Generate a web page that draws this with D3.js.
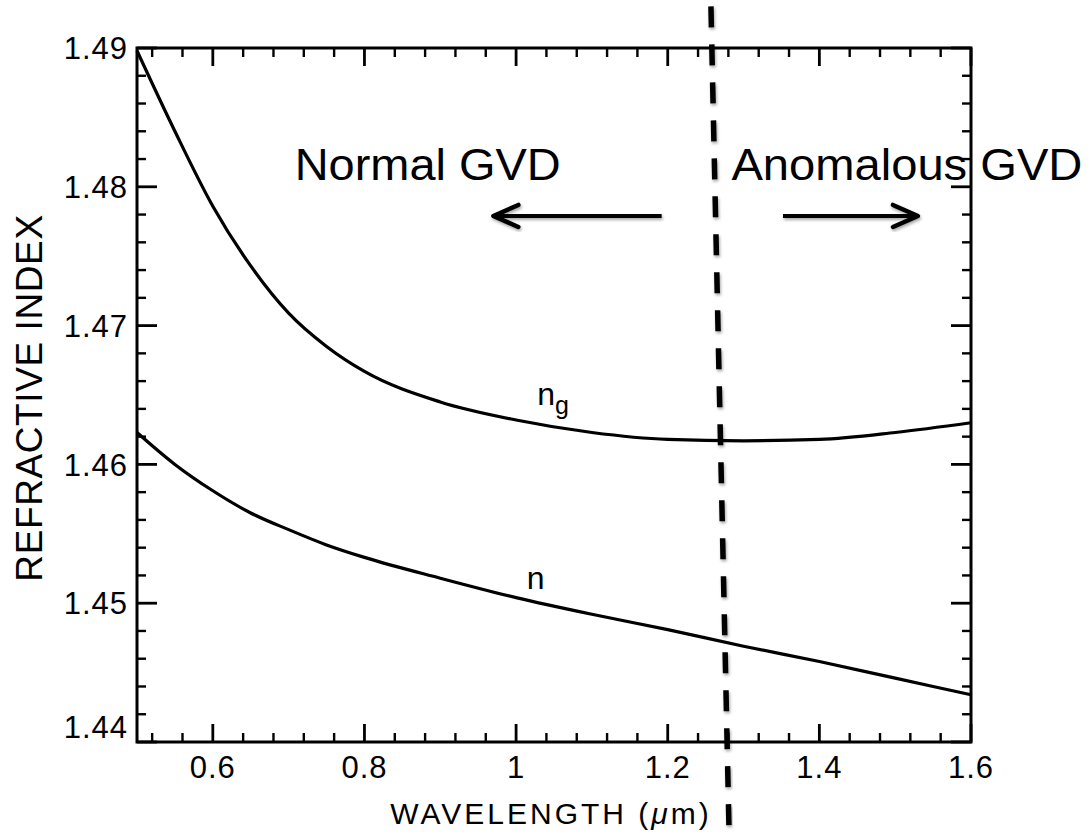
<!DOCTYPE html>
<html>
<head>
<meta charset="utf-8">
<script src="https://cdn.jsdelivr.net/npm/d3@7"></script>
<style>
  body { margin: 0; background: #fff; }
  svg { display: block; }
</style>
</head>
<body>
<script>
// Refractive index n and group index ng of fused silica vs wavelength

const wavelengths = [0.50, 0.55, 0.60, 0.65, 0.70, 0.75, 0.80, 0.90, 1.00, 1.10, 1.20, 1.30, 1.40, 1.50, 1.60];
const groupIndex = [1.4898, 1.4840, 1.4786, 1.4743, 1.4709, 1.4685, 1.4667, 1.4645, 1.4632, 1.4623, 1.4618, 1.4617, 1.4618, 1.4623, 1.4630];
const phaseIndex = [1.4623, 1.4600, 1.4581, 1.4565, 1.4553, 1.4542, 1.4533, 1.4518, 1.4504, 1.4492, 1.4481, 1.4469, 1.4458, 1.4446, 1.4434];

const xMajorTicks = [0.6, 0.8, 1.0, 1.2, 1.4, 1.6];
const xTickLabels = ['0.6', '0.8', '1', '1.2', '1.4', '1.6'];
const yMajorTicks = [1.44, 1.45, 1.46, 1.47, 1.48, 1.49];
const yTickLabels = ['1.44', '1.45', '1.46', '1.47', '1.48', '1.49'];

// zero dispersion line (the scan is a little tilted): top and bottom ends
const zdWavelength = [1.257, 1.281];
const zdIndex = [1.4930, 1.4333];

// region annotations
const regionLabels = ['Normal GVD', 'Anomalous GVD'];
const regionLabelWavelength = [0.708, 1.284];
const regionLabelIndex = 1.4805;
const arrowTail = [1.192, 1.352];
const arrowTip = [0.970, 1.530];
const arrowIndex = 1.4779;

// curve labels
const curveLabelWavelength = [1.028, 1.014];
const curveLabelIndex = [1.4643, 1.4510];

const width = 1090;
const height = 839;
const plot = { left: 137, right: 971, top: 48, bottom: 742 };

const x = d3.scaleLinear().domain([0.5, 1.6]).range([plot.left, plot.right]);
const y = d3.scaleLinear().domain([1.44, 1.49]).range([plot.bottom, plot.top]);

const notMajor = majors => v => !majors.some(m => Math.abs(m - v) < 1e-6);
const xMinorTicks = d3.range(0.52, 1.59, 0.04).filter(notMajor(xMajorTicks));
const yMinorTicks = d3.range(1.442, 1.4895, 0.002).filter(notMajor(yMajorTicks));

const font = "'Liberation Sans', Arial, sans-serif";

const svg = d3.select('body').append('svg')
  .attr('width', width)
  .attr('height', height);

const defs = svg.append('defs');
defs.append('filter')
  .attr('id', 'shadow')
  .attr('x', '-20%').attr('y', '-20%')
  .attr('width', '140%').attr('height', '140%')
  .append('feDropShadow')
  .attr('dx', 1).attr('dy', 2)
  .attr('stdDeviation', 1.5)
  .attr('flood-opacity', 0.35);

// inward tick marks on the four sides of the frame
const drawXTicks = function (values, len, strokeWidth) {
  [[plot.bottom, -len], [plot.top, len]].forEach(([y0, dy]) => {
    svg.append('g').selectAll('line')
      .data(values)
      .join('line')
      .attr('x1', d => x(d)).attr('x2', d => x(d))
      .attr('y1', y0).attr('y2', y0 + dy)
      .attr('stroke', '#000')
      .attr('stroke-width', strokeWidth);
  });
};

const drawYTicks = function (values, len, strokeWidth) {
  [[plot.left, len], [plot.right, -len]].forEach(([x0, dx]) => {
    svg.append('g').selectAll('line')
      .data(values)
      .join('line')
      .attr('y1', d => y(d)).attr('y2', d => y(d))
      .attr('x1', x0).attr('x2', x0 + dx)
      .attr('stroke', '#000')
      .attr('stroke-width', strokeWidth);
  });
};

drawXTicks(xMinorTicks, 9, 2.4);
drawXTicks(xMajorTicks, 18, 2.8);
drawYTicks(yMinorTicks, 9, 2.4);
drawYTicks(yMajorTicks, 20, 2.8);

// tick labels
svg.append('g').selectAll('text')
  .data(xMajorTicks)
  .join('text')
  .attr('x', d => x(d))
  .attr('y', plot.bottom + 36)
  .attr('text-anchor', 'middle')
  .style('font-family', font)
  .style('font-size', '31px')
  .style('letter-spacing', '1px')
  .text((d, i) => xTickLabels[i]);

svg.append('g').selectAll('text')
  .data(yMajorTicks)
  .join('text')
  .attr('x', plot.left - 9)
  .attr('y', d => y(d) + (d === 1.44 ? -15 : 0))
  .attr('dy', '0.36em')
  .attr('text-anchor', 'end')
  .style('font-family', font)
  .style('font-size', '31px')
  .style('letter-spacing', '1px')
  .text((d, i) => yTickLabels[i]);

// frame
svg.append('rect')
  .attr('x', plot.left)
  .attr('y', plot.top)
  .attr('width', plot.right - plot.left)
  .attr('height', plot.bottom - plot.top)
  .attr('fill', 'none')
  .attr('stroke', '#000')
  .attr('stroke-width', 3);

// curves
const line = d3.line()
  .x(d => x(d[0]))
  .y(d => y(d[1]))
  .curve(d3.curveMonotoneX);

[groupIndex, phaseIndex].forEach(series => {
  svg.append('path')
    .datum(wavelengths.map((w, i) => [w, series[i]]))
    .attr('d', line)
    .attr('fill', 'none')
    .attr('stroke', '#000')
    .attr('stroke-width', 3.2);
});

// curve labels
const ngLabel = svg.append('text')
  .attr('x', x(curveLabelWavelength[0]))
  .attr('y', y(curveLabelIndex[0]))
  .style('font-family', font)
  .style('font-size', '32px');
ngLabel.append('tspan').text('n');
ngLabel.append('tspan').attr('dy', 9).style('font-size', '25px').text('g');

svg.append('text')
  .attr('x', x(curveLabelWavelength[1]))
  .attr('y', y(curveLabelIndex[1]))
  .style('font-family', font)
  .style('font-size', '32px')
  .text('n');

// axis titles
const xTitle = svg.append('text')
  .attr('x', 551)
  .attr('y', 824)
  .attr('text-anchor', 'middle')
  .style('font-family', font)
  .style('font-size', '30px')
  .style('letter-spacing', '3px');
xTitle.append('tspan').text('WAVELENGTH (');
xTitle.append('tspan').style('font-style', 'italic').text('\u03bc');
xTitle.append('tspan').text('m)');

svg.append('text')
  .attr('transform', 'translate(42,398) rotate(-90)')
  .attr('text-anchor', 'middle')
  .style('font-family', font)
  .style('font-size', '37px')
  .style('letter-spacing', '0.6px')
  .text('REFRACTIVE INDEX');

// zero dispersion wavelength, dashed
svg.append('line')
  .attr('x1', x(zdWavelength[0]))
  .attr('y1', y(zdIndex[0]))
  .attr('x2', x(zdWavelength[1]))
  .attr('y2', y(zdIndex[1]))
  .attr('stroke', '#000')
  .attr('stroke-width', 5.5)
  .attr('stroke-dasharray', '21 17')
  .attr('filter', 'url(#shadow)');

// region labels
const regionWidths = [266, 351];
regionLabels.forEach((label, i) => {
  svg.append('text')
    .attr('x', x(regionLabelWavelength[i]))
    .attr('y', y(regionLabelIndex))
    .attr('textLength', regionWidths[i])
    .attr('lengthAdjust', 'spacingAndGlyphs')
    .style('font-family', font)
    .style('font-size', '44px')
    .attr('fill', '#000')
    .text(label);
});

// arrows with open heads
arrowTail.forEach((tail, i) => {
  const x0 = x(tail);
  const x1 = x(arrowTip[i]);
  const yy = y(arrowIndex);
  const dir = x1 > x0 ? 1 : -1;
  const g = svg.append('g').attr('filter', 'url(#shadow)');
  g.append('line')
    .attr('x1', x0).attr('y1', yy)
    .attr('x2', x1 - dir * 2).attr('y2', yy)
    .attr('stroke', '#000')
    .attr('stroke-width', 4);
  g.append('path')
    .attr('d', `M${x1 - dir * 25},${yy - 11}L${x1},${yy}L${x1 - dir * 25},${yy + 11}`)
    .attr('fill', 'none')
    .attr('stroke', '#000')
    .attr('stroke-width', 4.5)
    .attr('stroke-linecap', 'round')
    .attr('stroke-linejoin', 'round');
});
</script>
</body>
</html>
